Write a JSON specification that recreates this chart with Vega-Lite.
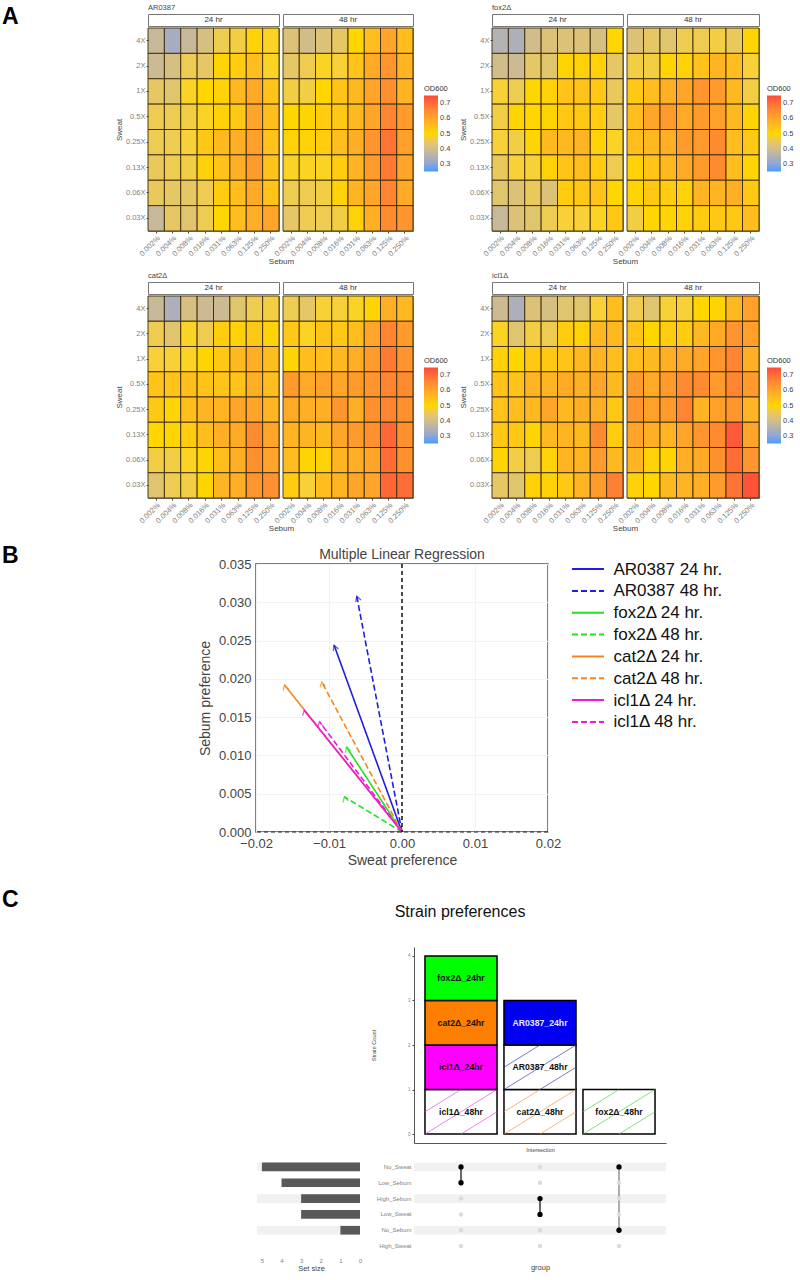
{"$schema":"https://vega.github.io/schema/vega-lite/v6.json","padding":0,"background":"white","spacing":0,"resolve":{"scale":{"color":"independent","stroke":"independent","fill":"independent"}},
"config":{"font":"Liberation Sans","view":{"stroke":null},"title":{"anchor":"start","fontSize":7.5,"fontWeight":"normal","color":"#444","offset":3},
"axis":{"grid":false,"domain":false,"labelColor":"#808080","labelFontSize":7.5,"tickColor":"#444","tickSize":2,"titleColor":"#444","titleFontSize":8,"titleFontWeight":"normal","labelPadding":1},
"axisX":{"labelAngle":-45,"labelAlign":"right","labelBaseline":"top"},
"legend":{"gradientLength":76,"gradientThickness":14,"titleFontSize":7.5,"titleFontWeight":"normal","titleColor":"#333","labelFontSize":7.5,"labelColor":"#444","titlePadding":3,"gradientStrokeWidth":0,"tickCount":5}},
"datasets":{
"a24":[{"sebum":"0.002%","sweat":"4X","od":0.38},{"sebum":"0.004%","sweat":"4X","od":0.33},{"sebum":"0.008%","sweat":"4X","od":0.38},{"sebum":"0.016%","sweat":"4X","od":0.41},{"sebum":"0.031%","sweat":"4X","od":0.46},{"sebum":"0.063%","sweat":"4X","od":0.47},{"sebum":"0.125%","sweat":"4X","od":0.51},{"sebum":"0.250%","sweat":"4X","od":0.49},
{"sebum":"0.002%","sweat":"2X","od":0.39},{"sebum":"0.004%","sweat":"2X","od":0.41},{"sebum":"0.008%","sweat":"2X","od":0.46},{"sebum":"0.016%","sweat":"2X","od":0.44},{"sebum":"0.031%","sweat":"2X","od":0.505},{"sebum":"0.063%","sweat":"2X","od":0.52},{"sebum":"0.125%","sweat":"2X","od":0.55},{"sebum":"0.250%","sweat":"2X","od":0.49},
{"sebum":"0.002%","sweat":"1X","od":0.44},{"sebum":"0.004%","sweat":"1X","od":0.43},{"sebum":"0.008%","sweat":"1X","od":0.49},{"sebum":"0.016%","sweat":"1X","od":0.5},{"sebum":"0.031%","sweat":"1X","od":0.51},{"sebum":"0.063%","sweat":"1X","od":0.56},{"sebum":"0.125%","sweat":"1X","od":0.59},{"sebum":"0.250%","sweat":"1X","od":0.54},
{"sebum":"0.002%","sweat":"0.5X","od":0.46},{"sebum":"0.004%","sweat":"0.5X","od":0.46},{"sebum":"0.008%","sweat":"0.5X","od":0.47},{"sebum":"0.016%","sweat":"0.5X","od":0.49},{"sebum":"0.031%","sweat":"0.5X","od":0.51},{"sebum":"0.063%","sweat":"0.5X","od":0.53},{"sebum":"0.125%","sweat":"0.5X","od":0.6},{"sebum":"0.250%","sweat":"0.5X","od":0.55},
{"sebum":"0.002%","sweat":"0.25X","od":0.46},{"sebum":"0.004%","sweat":"0.25X","od":0.46},{"sebum":"0.008%","sweat":"0.25X","od":0.48},{"sebum":"0.016%","sweat":"0.25X","od":0.53},{"sebum":"0.031%","sweat":"0.25X","od":0.56},{"sebum":"0.063%","sweat":"0.25X","od":0.58},{"sebum":"0.125%","sweat":"0.25X","od":0.61},{"sebum":"0.250%","sweat":"0.25X","od":0.54},
{"sebum":"0.002%","sweat":"0.13X","od":0.45},{"sebum":"0.004%","sweat":"0.13X","od":0.46},{"sebum":"0.008%","sweat":"0.13X","od":0.47},{"sebum":"0.016%","sweat":"0.13X","od":0.51},{"sebum":"0.031%","sweat":"0.13X","od":0.54},{"sebum":"0.063%","sweat":"0.13X","od":0.58},{"sebum":"0.125%","sweat":"0.13X","od":0.62},{"sebum":"0.250%","sweat":"0.13X","od":0.54},
{"sebum":"0.002%","sweat":"0.06X","od":0.45},{"sebum":"0.004%","sweat":"0.06X","od":0.44},{"sebum":"0.008%","sweat":"0.06X","od":0.44},{"sebum":"0.016%","sweat":"0.06X","od":0.46},{"sebum":"0.031%","sweat":"0.06X","od":0.52},{"sebum":"0.063%","sweat":"0.06X","od":0.55},{"sebum":"0.125%","sweat":"0.06X","od":0.59},{"sebum":"0.250%","sweat":"0.06X","od":0.54},
{"sebum":"0.002%","sweat":"0.03X","od":0.38},{"sebum":"0.004%","sweat":"0.03X","od":0.44},{"sebum":"0.008%","sweat":"0.03X","od":0.43},{"sebum":"0.016%","sweat":"0.03X","od":0.46},{"sebum":"0.031%","sweat":"0.03X","od":0.5},{"sebum":"0.063%","sweat":"0.03X","od":0.55},{"sebum":"0.125%","sweat":"0.03X","od":0.58},{"sebum":"0.250%","sweat":"0.03X","od":0.6}],
"a48":[{"sebum":"0.002%","sweat":"4X","od":0.42},{"sebum":"0.004%","sweat":"4X","od":0.4},{"sebum":"0.008%","sweat":"4X","od":0.42},{"sebum":"0.016%","sweat":"4X","od":0.44},{"sebum":"0.031%","sweat":"4X","od":0.5},{"sebum":"0.063%","sweat":"4X","od":0.55},{"sebum":"0.125%","sweat":"4X","od":0.6},{"sebum":"0.250%","sweat":"4X","od":0.55},
{"sebum":"0.002%","sweat":"2X","od":0.44},{"sebum":"0.004%","sweat":"2X","od":0.46},{"sebum":"0.008%","sweat":"2X","od":0.49},{"sebum":"0.016%","sweat":"2X","od":0.48},{"sebum":"0.031%","sweat":"2X","od":0.54},{"sebum":"0.063%","sweat":"2X","od":0.59},{"sebum":"0.125%","sweat":"2X","od":0.63},{"sebum":"0.250%","sweat":"2X","od":0.57},
{"sebum":"0.002%","sweat":"1X","od":0.47},{"sebum":"0.004%","sweat":"1X","od":0.47},{"sebum":"0.008%","sweat":"1X","od":0.5},{"sebum":"0.016%","sweat":"1X","od":0.54},{"sebum":"0.031%","sweat":"1X","od":0.56},{"sebum":"0.063%","sweat":"1X","od":0.6},{"sebum":"0.125%","sweat":"1X","od":0.64},{"sebum":"0.250%","sweat":"1X","od":0.57},
{"sebum":"0.002%","sweat":"0.5X","od":0.5},{"sebum":"0.004%","sweat":"0.5X","od":0.505},{"sebum":"0.008%","sweat":"0.5X","od":0.52},{"sebum":"0.016%","sweat":"0.5X","od":0.53},{"sebum":"0.031%","sweat":"0.5X","od":0.56},{"sebum":"0.063%","sweat":"0.5X","od":0.6},{"sebum":"0.125%","sweat":"0.5X","od":0.66},{"sebum":"0.250%","sweat":"0.5X","od":0.62},
{"sebum":"0.002%","sweat":"0.25X","od":0.51},{"sebum":"0.004%","sweat":"0.25X","od":0.51},{"sebum":"0.008%","sweat":"0.25X","od":0.52},{"sebum":"0.016%","sweat":"0.25X","od":0.55},{"sebum":"0.031%","sweat":"0.25X","od":0.58},{"sebum":"0.063%","sweat":"0.25X","od":0.63},{"sebum":"0.125%","sweat":"0.25X","od":0.69},{"sebum":"0.250%","sweat":"0.25X","od":0.61},
{"sebum":"0.002%","sweat":"0.13X","od":0.49},{"sebum":"0.004%","sweat":"0.13X","od":0.49},{"sebum":"0.008%","sweat":"0.13X","od":0.49},{"sebum":"0.016%","sweat":"0.13X","od":0.52},{"sebum":"0.031%","sweat":"0.13X","od":0.57},{"sebum":"0.063%","sweat":"0.13X","od":0.62},{"sebum":"0.125%","sweat":"0.13X","od":0.68},{"sebum":"0.250%","sweat":"0.13X","od":0.6},
{"sebum":"0.002%","sweat":"0.06X","od":0.46},{"sebum":"0.004%","sweat":"0.06X","od":0.46},{"sebum":"0.008%","sweat":"0.06X","od":0.47},{"sebum":"0.016%","sweat":"0.06X","od":0.51},{"sebum":"0.031%","sweat":"0.06X","od":0.57},{"sebum":"0.063%","sweat":"0.06X","od":0.6},{"sebum":"0.125%","sweat":"0.06X","od":0.66},{"sebum":"0.250%","sweat":"0.06X","od":0.59},
{"sebum":"0.002%","sweat":"0.03X","od":0.44},{"sebum":"0.004%","sweat":"0.03X","od":0.46},{"sebum":"0.008%","sweat":"0.03X","od":0.46},{"sebum":"0.016%","sweat":"0.03X","od":0.47},{"sebum":"0.031%","sweat":"0.03X","od":0.51},{"sebum":"0.063%","sweat":"0.03X","od":0.58},{"sebum":"0.125%","sweat":"0.03X","od":0.65},{"sebum":"0.250%","sweat":"0.03X","od":0.63}],
"f24":[{"sebum":"0.002%","sweat":"4X","od":0.35},{"sebum":"0.004%","sweat":"4X","od":0.34},{"sebum":"0.008%","sweat":"4X","od":0.4},{"sebum":"0.016%","sweat":"4X","od":0.42},{"sebum":"0.031%","sweat":"4X","od":0.42},{"sebum":"0.063%","sweat":"4X","od":0.42},{"sebum":"0.125%","sweat":"4X","od":0.41},{"sebum":"0.250%","sweat":"4X","od":0.5},
{"sebum":"0.002%","sweat":"2X","od":0.4},{"sebum":"0.004%","sweat":"2X","od":0.39},{"sebum":"0.008%","sweat":"2X","od":0.44},{"sebum":"0.016%","sweat":"2X","od":0.43},{"sebum":"0.031%","sweat":"2X","od":0.505},{"sebum":"0.063%","sweat":"2X","od":0.51},{"sebum":"0.125%","sweat":"2X","od":0.51},{"sebum":"0.250%","sweat":"2X","od":0.44},
{"sebum":"0.002%","sweat":"1X","od":0.48},{"sebum":"0.004%","sweat":"1X","od":0.46},{"sebum":"0.008%","sweat":"1X","od":0.5},{"sebum":"0.016%","sweat":"1X","od":0.51},{"sebum":"0.031%","sweat":"1X","od":0.54},{"sebum":"0.063%","sweat":"1X","od":0.54},{"sebum":"0.125%","sweat":"1X","od":0.53},{"sebum":"0.250%","sweat":"1X","od":0.45},
{"sebum":"0.002%","sweat":"0.5X","od":0.47},{"sebum":"0.004%","sweat":"0.5X","od":0.505},{"sebum":"0.008%","sweat":"0.5X","od":0.5},{"sebum":"0.016%","sweat":"0.5X","od":0.505},{"sebum":"0.031%","sweat":"0.5X","od":0.53},{"sebum":"0.063%","sweat":"0.5X","od":0.53},{"sebum":"0.125%","sweat":"0.5X","od":0.52},{"sebum":"0.250%","sweat":"0.5X","od":0.44},
{"sebum":"0.002%","sweat":"0.25X","od":0.48},{"sebum":"0.004%","sweat":"0.25X","od":0.47},{"sebum":"0.008%","sweat":"0.25X","od":0.505},{"sebum":"0.016%","sweat":"0.25X","od":0.56},{"sebum":"0.031%","sweat":"0.25X","od":0.56},{"sebum":"0.063%","sweat":"0.25X","od":0.57},{"sebum":"0.125%","sweat":"0.25X","od":0.51},{"sebum":"0.250%","sweat":"0.25X","od":0.49},
{"sebum":"0.002%","sweat":"0.13X","od":0.45},{"sebum":"0.004%","sweat":"0.13X","od":0.48},{"sebum":"0.008%","sweat":"0.13X","od":0.48},{"sebum":"0.016%","sweat":"0.13X","od":0.51},{"sebum":"0.031%","sweat":"0.13X","od":0.54},{"sebum":"0.063%","sweat":"0.13X","od":0.55},{"sebum":"0.125%","sweat":"0.13X","od":0.52},{"sebum":"0.250%","sweat":"0.13X","od":0.46},
{"sebum":"0.002%","sweat":"0.06X","od":0.43},{"sebum":"0.004%","sweat":"0.06X","od":0.42},{"sebum":"0.008%","sweat":"0.06X","od":0.45},{"sebum":"0.016%","sweat":"0.06X","od":0.42},{"sebum":"0.031%","sweat":"0.06X","od":0.52},{"sebum":"0.063%","sweat":"0.06X","od":0.53},{"sebum":"0.125%","sweat":"0.06X","od":0.54},{"sebum":"0.250%","sweat":"0.06X","od":0.5},
{"sebum":"0.002%","sweat":"0.03X","od":0.38},{"sebum":"0.004%","sweat":"0.03X","od":0.42},{"sebum":"0.008%","sweat":"0.03X","od":0.43},{"sebum":"0.016%","sweat":"0.03X","od":0.46},{"sebum":"0.031%","sweat":"0.03X","od":0.48},{"sebum":"0.063%","sweat":"0.03X","od":0.48},{"sebum":"0.125%","sweat":"0.03X","od":0.49},{"sebum":"0.250%","sweat":"0.03X","od":0.53}],
"f48":[{"sebum":"0.002%","sweat":"4X","od":0.42},{"sebum":"0.004%","sweat":"4X","od":0.44},{"sebum":"0.008%","sweat":"4X","od":0.43},{"sebum":"0.016%","sweat":"4X","od":0.46},{"sebum":"0.031%","sweat":"4X","od":0.46},{"sebum":"0.063%","sweat":"4X","od":0.47},{"sebum":"0.125%","sweat":"4X","od":0.45},{"sebum":"0.250%","sweat":"4X","od":0.505},
{"sebum":"0.002%","sweat":"2X","od":0.47},{"sebum":"0.004%","sweat":"2X","od":0.47},{"sebum":"0.008%","sweat":"2X","od":0.505},{"sebum":"0.016%","sweat":"2X","od":0.51},{"sebum":"0.031%","sweat":"2X","od":0.54},{"sebum":"0.063%","sweat":"2X","od":0.57},{"sebum":"0.125%","sweat":"2X","od":0.55},{"sebum":"0.250%","sweat":"2X","od":0.48},
{"sebum":"0.002%","sweat":"1X","od":0.53},{"sebum":"0.004%","sweat":"1X","od":0.55},{"sebum":"0.008%","sweat":"1X","od":0.58},{"sebum":"0.016%","sweat":"1X","od":0.6},{"sebum":"0.031%","sweat":"1X","od":0.63},{"sebum":"0.063%","sweat":"1X","od":0.62},{"sebum":"0.125%","sweat":"1X","od":0.56},{"sebum":"0.250%","sweat":"1X","od":0.47},
{"sebum":"0.002%","sweat":"0.5X","od":0.55},{"sebum":"0.004%","sweat":"0.5X","od":0.6},{"sebum":"0.008%","sweat":"0.5X","od":0.62},{"sebum":"0.016%","sweat":"0.5X","od":0.59},{"sebum":"0.031%","sweat":"0.5X","od":0.62},{"sebum":"0.063%","sweat":"0.5X","od":0.61},{"sebum":"0.125%","sweat":"0.5X","od":0.56},{"sebum":"0.250%","sweat":"0.5X","od":0.505},
{"sebum":"0.002%","sweat":"0.25X","od":0.55},{"sebum":"0.004%","sweat":"0.25X","od":0.56},{"sebum":"0.008%","sweat":"0.25X","od":0.58},{"sebum":"0.016%","sweat":"0.25X","od":0.62},{"sebum":"0.031%","sweat":"0.25X","od":0.62},{"sebum":"0.063%","sweat":"0.25X","od":0.65},{"sebum":"0.125%","sweat":"0.25X","od":0.55},{"sebum":"0.250%","sweat":"0.25X","od":0.53},
{"sebum":"0.002%","sweat":"0.13X","od":0.51},{"sebum":"0.004%","sweat":"0.13X","od":0.54},{"sebum":"0.008%","sweat":"0.13X","od":0.56},{"sebum":"0.016%","sweat":"0.13X","od":0.59},{"sebum":"0.031%","sweat":"0.13X","od":0.62},{"sebum":"0.063%","sweat":"0.13X","od":0.65},{"sebum":"0.125%","sweat":"0.13X","od":0.55},{"sebum":"0.250%","sweat":"0.13X","od":0.505},
{"sebum":"0.002%","sweat":"0.06X","od":0.505},{"sebum":"0.004%","sweat":"0.06X","od":0.53},{"sebum":"0.008%","sweat":"0.06X","od":0.52},{"sebum":"0.016%","sweat":"0.06X","od":0.51},{"sebum":"0.031%","sweat":"0.06X","od":0.57},{"sebum":"0.063%","sweat":"0.06X","od":0.57},{"sebum":"0.125%","sweat":"0.06X","od":0.58},{"sebum":"0.250%","sweat":"0.06X","od":0.53},
{"sebum":"0.002%","sweat":"0.03X","od":0.47},{"sebum":"0.004%","sweat":"0.03X","od":0.5},{"sebum":"0.008%","sweat":"0.03X","od":0.505},{"sebum":"0.016%","sweat":"0.03X","od":0.51},{"sebum":"0.031%","sweat":"0.03X","od":0.52},{"sebum":"0.063%","sweat":"0.03X","od":0.53},{"sebum":"0.125%","sweat":"0.03X","od":0.53},{"sebum":"0.250%","sweat":"0.03X","od":0.55}],
"c24":[{"sebum":"0.002%","sweat":"4X","od":0.38},{"sebum":"0.004%","sweat":"4X","od":0.34},{"sebum":"0.008%","sweat":"4X","od":0.41},{"sebum":"0.016%","sweat":"4X","od":0.39},{"sebum":"0.031%","sweat":"4X","od":0.39},{"sebum":"0.063%","sweat":"4X","od":0.43},{"sebum":"0.125%","sweat":"4X","od":0.46},{"sebum":"0.250%","sweat":"4X","od":0.47},
{"sebum":"0.002%","sweat":"2X","od":0.46},{"sebum":"0.004%","sweat":"2X","od":0.43},{"sebum":"0.008%","sweat":"2X","od":0.49},{"sebum":"0.016%","sweat":"2X","od":0.46},{"sebum":"0.031%","sweat":"2X","od":0.52},{"sebum":"0.063%","sweat":"2X","od":0.51},{"sebum":"0.125%","sweat":"2X","od":0.53},{"sebum":"0.250%","sweat":"2X","od":0.505},
{"sebum":"0.002%","sweat":"1X","od":0.48},{"sebum":"0.004%","sweat":"1X","od":0.48},{"sebum":"0.008%","sweat":"1X","od":0.49},{"sebum":"0.016%","sweat":"1X","od":0.505},{"sebum":"0.031%","sweat":"1X","od":0.53},{"sebum":"0.063%","sweat":"1X","od":0.56},{"sebum":"0.125%","sweat":"1X","od":0.58},{"sebum":"0.250%","sweat":"1X","od":0.55},
{"sebum":"0.002%","sweat":"0.5X","od":0.54},{"sebum":"0.004%","sweat":"0.5X","od":0.54},{"sebum":"0.008%","sweat":"0.5X","od":0.55},{"sebum":"0.016%","sweat":"0.5X","od":0.54},{"sebum":"0.031%","sweat":"0.5X","od":0.54},{"sebum":"0.063%","sweat":"0.5X","od":0.54},{"sebum":"0.125%","sweat":"0.5X","od":0.58},{"sebum":"0.250%","sweat":"0.5X","od":0.55},
{"sebum":"0.002%","sweat":"0.25X","od":0.53},{"sebum":"0.004%","sweat":"0.25X","od":0.505},{"sebum":"0.008%","sweat":"0.25X","od":0.55},{"sebum":"0.016%","sweat":"0.25X","od":0.57},{"sebum":"0.031%","sweat":"0.25X","od":0.57},{"sebum":"0.063%","sweat":"0.25X","od":0.6},{"sebum":"0.125%","sweat":"0.25X","od":0.6},{"sebum":"0.250%","sweat":"0.25X","od":0.57},
{"sebum":"0.002%","sweat":"0.13X","od":0.5},{"sebum":"0.004%","sweat":"0.13X","od":0.505},{"sebum":"0.008%","sweat":"0.13X","od":0.52},{"sebum":"0.016%","sweat":"0.13X","od":0.55},{"sebum":"0.031%","sweat":"0.13X","od":0.58},{"sebum":"0.063%","sweat":"0.13X","od":0.59},{"sebum":"0.125%","sweat":"0.13X","od":0.65},{"sebum":"0.250%","sweat":"0.13X","od":0.6},
{"sebum":"0.002%","sweat":"0.06X","od":0.47},{"sebum":"0.004%","sweat":"0.06X","od":0.47},{"sebum":"0.008%","sweat":"0.06X","od":0.49},{"sebum":"0.016%","sweat":"0.06X","od":0.505},{"sebum":"0.031%","sweat":"0.06X","od":0.55},{"sebum":"0.063%","sweat":"0.06X","od":0.58},{"sebum":"0.125%","sweat":"0.06X","od":0.64},{"sebum":"0.250%","sweat":"0.06X","od":0.6},
{"sebum":"0.002%","sweat":"0.03X","od":0.43},{"sebum":"0.004%","sweat":"0.03X","od":0.46},{"sebum":"0.008%","sweat":"0.03X","od":0.47},{"sebum":"0.016%","sweat":"0.03X","od":0.505},{"sebum":"0.031%","sweat":"0.03X","od":0.57},{"sebum":"0.063%","sweat":"0.03X","od":0.58},{"sebum":"0.125%","sweat":"0.03X","od":0.63},{"sebum":"0.250%","sweat":"0.03X","od":0.64}],
"c48":[{"sebum":"0.002%","sweat":"4X","od":0.46},{"sebum":"0.004%","sweat":"4X","od":0.44},{"sebum":"0.008%","sweat":"4X","od":0.48},{"sebum":"0.016%","sweat":"4X","od":0.48},{"sebum":"0.031%","sweat":"4X","od":0.49},{"sebum":"0.063%","sweat":"4X","od":0.505},{"sebum":"0.125%","sweat":"4X","od":0.58},{"sebum":"0.250%","sweat":"4X","od":0.56},
{"sebum":"0.002%","sweat":"2X","od":0.53},{"sebum":"0.004%","sweat":"2X","od":0.49},{"sebum":"0.008%","sweat":"2X","od":0.54},{"sebum":"0.016%","sweat":"2X","od":0.53},{"sebum":"0.031%","sweat":"2X","od":0.55},{"sebum":"0.063%","sweat":"2X","od":0.6},{"sebum":"0.125%","sweat":"2X","od":0.66},{"sebum":"0.250%","sweat":"2X","od":0.62},
{"sebum":"0.002%","sweat":"1X","od":0.505},{"sebum":"0.004%","sweat":"1X","od":0.55},{"sebum":"0.008%","sweat":"1X","od":0.55},{"sebum":"0.016%","sweat":"1X","od":0.56},{"sebum":"0.031%","sweat":"1X","od":0.58},{"sebum":"0.063%","sweat":"1X","od":0.62},{"sebum":"0.125%","sweat":"1X","od":0.68},{"sebum":"0.250%","sweat":"1X","od":0.63},
{"sebum":"0.002%","sweat":"0.5X","od":0.62},{"sebum":"0.004%","sweat":"0.5X","od":0.59},{"sebum":"0.008%","sweat":"0.5X","od":0.61},{"sebum":"0.016%","sweat":"0.5X","od":0.6},{"sebum":"0.031%","sweat":"0.5X","od":0.62},{"sebum":"0.063%","sweat":"0.5X","od":0.63},{"sebum":"0.125%","sweat":"0.5X","od":0.66},{"sebum":"0.250%","sweat":"0.5X","od":0.65},
{"sebum":"0.002%","sweat":"0.25X","od":0.59},{"sebum":"0.004%","sweat":"0.25X","od":0.58},{"sebum":"0.008%","sweat":"0.25X","od":0.58},{"sebum":"0.016%","sweat":"0.25X","od":0.63},{"sebum":"0.031%","sweat":"0.25X","od":0.58},{"sebum":"0.063%","sweat":"0.25X","od":0.64},{"sebum":"0.125%","sweat":"0.25X","od":0.66},{"sebum":"0.250%","sweat":"0.25X","od":0.64},
{"sebum":"0.002%","sweat":"0.13X","od":0.57},{"sebum":"0.004%","sweat":"0.13X","od":0.57},{"sebum":"0.008%","sweat":"0.13X","od":0.56},{"sebum":"0.016%","sweat":"0.13X","od":0.6},{"sebum":"0.031%","sweat":"0.13X","od":0.62},{"sebum":"0.063%","sweat":"0.13X","od":0.64},{"sebum":"0.125%","sweat":"0.13X","od":0.71},{"sebum":"0.250%","sweat":"0.13X","od":0.64},
{"sebum":"0.002%","sweat":"0.06X","od":0.55},{"sebum":"0.004%","sweat":"0.06X","od":0.505},{"sebum":"0.008%","sweat":"0.06X","od":0.51},{"sebum":"0.016%","sweat":"0.06X","od":0.57},{"sebum":"0.031%","sweat":"0.06X","od":0.58},{"sebum":"0.063%","sweat":"0.06X","od":0.6},{"sebum":"0.125%","sweat":"0.06X","od":0.7},{"sebum":"0.250%","sweat":"0.06X","od":0.64},
{"sebum":"0.002%","sweat":"0.03X","od":0.52},{"sebum":"0.004%","sweat":"0.03X","od":0.48},{"sebum":"0.008%","sweat":"0.03X","od":0.55},{"sebum":"0.016%","sweat":"0.03X","od":0.57},{"sebum":"0.031%","sweat":"0.03X","od":0.6},{"sebum":"0.063%","sweat":"0.03X","od":0.6},{"sebum":"0.125%","sweat":"0.03X","od":0.71},{"sebum":"0.250%","sweat":"0.03X","od":0.7}],
"i24":[{"sebum":"0.002%","sweat":"4X","od":0.39},{"sebum":"0.004%","sweat":"4X","od":0.34},{"sebum":"0.008%","sweat":"4X","od":0.42},{"sebum":"0.016%","sweat":"4X","od":0.41},{"sebum":"0.031%","sweat":"4X","od":0.43},{"sebum":"0.063%","sweat":"4X","od":0.43},{"sebum":"0.125%","sweat":"4X","od":0.48},{"sebum":"0.250%","sweat":"4X","od":0.55},
{"sebum":"0.002%","sweat":"2X","od":0.49},{"sebum":"0.004%","sweat":"2X","od":0.43},{"sebum":"0.008%","sweat":"2X","od":0.47},{"sebum":"0.016%","sweat":"2X","od":0.46},{"sebum":"0.031%","sweat":"2X","od":0.52},{"sebum":"0.063%","sweat":"2X","od":0.51},{"sebum":"0.125%","sweat":"2X","od":0.56},{"sebum":"0.250%","sweat":"2X","od":0.56},
{"sebum":"0.002%","sweat":"1X","od":0.51},{"sebum":"0.004%","sweat":"1X","od":0.5},{"sebum":"0.008%","sweat":"1X","od":0.53},{"sebum":"0.016%","sweat":"1X","od":0.53},{"sebum":"0.031%","sweat":"1X","od":0.54},{"sebum":"0.063%","sweat":"1X","od":0.56},{"sebum":"0.125%","sweat":"1X","od":0.57},{"sebum":"0.250%","sweat":"1X","od":0.55},
{"sebum":"0.002%","sweat":"0.5X","od":0.54},{"sebum":"0.004%","sweat":"0.5X","od":0.54},{"sebum":"0.008%","sweat":"0.5X","od":0.57},{"sebum":"0.016%","sweat":"0.5X","od":0.57},{"sebum":"0.031%","sweat":"0.5X","od":0.59},{"sebum":"0.063%","sweat":"0.5X","od":0.58},{"sebum":"0.125%","sweat":"0.5X","od":0.6},{"sebum":"0.250%","sweat":"0.5X","od":0.56},
{"sebum":"0.002%","sweat":"0.25X","od":0.54},{"sebum":"0.004%","sweat":"0.25X","od":0.55},{"sebum":"0.008%","sweat":"0.25X","od":0.56},{"sebum":"0.016%","sweat":"0.25X","od":0.6},{"sebum":"0.031%","sweat":"0.25X","od":0.56},{"sebum":"0.063%","sweat":"0.25X","od":0.58},{"sebum":"0.125%","sweat":"0.25X","od":0.58},{"sebum":"0.250%","sweat":"0.25X","od":0.53},
{"sebum":"0.002%","sweat":"0.13X","od":0.53},{"sebum":"0.004%","sweat":"0.13X","od":0.53},{"sebum":"0.008%","sweat":"0.13X","od":0.505},{"sebum":"0.016%","sweat":"0.13X","od":0.56},{"sebum":"0.031%","sweat":"0.13X","od":0.57},{"sebum":"0.063%","sweat":"0.13X","od":0.56},{"sebum":"0.125%","sweat":"0.13X","od":0.65},{"sebum":"0.250%","sweat":"0.13X","od":0.52},
{"sebum":"0.002%","sweat":"0.06X","od":0.505},{"sebum":"0.004%","sweat":"0.06X","od":0.47},{"sebum":"0.008%","sweat":"0.06X","od":0.46},{"sebum":"0.016%","sweat":"0.06X","od":0.51},{"sebum":"0.031%","sweat":"0.06X","od":0.57},{"sebum":"0.063%","sweat":"0.06X","od":0.57},{"sebum":"0.125%","sweat":"0.06X","od":0.62},{"sebum":"0.250%","sweat":"0.06X","od":0.56},
{"sebum":"0.002%","sweat":"0.03X","od":0.44},{"sebum":"0.004%","sweat":"0.03X","od":0.43},{"sebum":"0.008%","sweat":"0.03X","od":0.51},{"sebum":"0.016%","sweat":"0.03X","od":0.51},{"sebum":"0.031%","sweat":"0.03X","od":0.53},{"sebum":"0.063%","sweat":"0.03X","od":0.57},{"sebum":"0.125%","sweat":"0.03X","od":0.62},{"sebum":"0.250%","sweat":"0.03X","od":0.67}],
"i48":[{"sebum":"0.002%","sweat":"4X","od":0.46},{"sebum":"0.004%","sweat":"4X","od":0.43},{"sebum":"0.008%","sweat":"4X","od":0.48},{"sebum":"0.016%","sweat":"4X","od":0.48},{"sebum":"0.031%","sweat":"4X","od":0.5},{"sebum":"0.063%","sweat":"4X","od":0.505},{"sebum":"0.125%","sweat":"4X","od":0.56},{"sebum":"0.250%","sweat":"4X","od":0.61},
{"sebum":"0.002%","sweat":"2X","od":0.54},{"sebum":"0.004%","sweat":"2X","od":0.5},{"sebum":"0.008%","sweat":"2X","od":0.52},{"sebum":"0.016%","sweat":"2X","od":0.52},{"sebum":"0.031%","sweat":"2X","od":0.56},{"sebum":"0.063%","sweat":"2X","od":0.59},{"sebum":"0.125%","sweat":"2X","od":0.63},{"sebum":"0.250%","sweat":"2X","od":0.61},
{"sebum":"0.002%","sweat":"1X","od":0.55},{"sebum":"0.004%","sweat":"1X","od":0.56},{"sebum":"0.008%","sweat":"1X","od":0.58},{"sebum":"0.016%","sweat":"1X","od":0.59},{"sebum":"0.031%","sweat":"1X","od":0.6},{"sebum":"0.063%","sweat":"1X","od":0.63},{"sebum":"0.125%","sweat":"1X","od":0.66},{"sebum":"0.250%","sweat":"1X","od":0.58},
{"sebum":"0.002%","sweat":"0.5X","od":0.62},{"sebum":"0.004%","sweat":"0.5X","od":0.59},{"sebum":"0.008%","sweat":"0.5X","od":0.62},{"sebum":"0.016%","sweat":"0.5X","od":0.65},{"sebum":"0.031%","sweat":"0.5X","od":0.65},{"sebum":"0.063%","sweat":"0.5X","od":0.62},{"sebum":"0.125%","sweat":"0.5X","od":0.66},{"sebum":"0.250%","sweat":"0.5X","od":0.62},
{"sebum":"0.002%","sweat":"0.25X","od":0.63},{"sebum":"0.004%","sweat":"0.25X","od":0.61},{"sebum":"0.008%","sweat":"0.25X","od":0.62},{"sebum":"0.016%","sweat":"0.25X","od":0.66},{"sebum":"0.031%","sweat":"0.25X","od":0.57},{"sebum":"0.063%","sweat":"0.25X","od":0.61},{"sebum":"0.125%","sweat":"0.25X","od":0.63},{"sebum":"0.250%","sweat":"0.25X","od":0.57},
{"sebum":"0.002%","sweat":"0.13X","od":0.6},{"sebum":"0.004%","sweat":"0.13X","od":0.58},{"sebum":"0.008%","sweat":"0.13X","od":0.57},{"sebum":"0.016%","sweat":"0.13X","od":0.6},{"sebum":"0.031%","sweat":"0.13X","od":0.63},{"sebum":"0.063%","sweat":"0.13X","od":0.65},{"sebum":"0.125%","sweat":"0.13X","od":0.73},{"sebum":"0.250%","sweat":"0.13X","od":0.6},
{"sebum":"0.002%","sweat":"0.06X","od":0.57},{"sebum":"0.004%","sweat":"0.06X","od":0.51},{"sebum":"0.008%","sweat":"0.06X","od":0.505},{"sebum":"0.016%","sweat":"0.06X","od":0.58},{"sebum":"0.031%","sweat":"0.06X","od":0.59},{"sebum":"0.063%","sweat":"0.06X","od":0.64},{"sebum":"0.125%","sweat":"0.06X","od":0.7},{"sebum":"0.250%","sweat":"0.06X","od":0.63},
{"sebum":"0.002%","sweat":"0.03X","od":0.51},{"sebum":"0.004%","sweat":"0.03X","od":0.5},{"sebum":"0.008%","sweat":"0.03X","od":0.56},{"sebum":"0.016%","sweat":"0.03X","od":0.57},{"sebum":"0.031%","sweat":"0.03X","od":0.58},{"sebum":"0.063%","sweat":"0.03X","od":0.62},{"sebum":"0.125%","sweat":"0.03X","od":0.69},{"sebum":"0.250%","sweat":"0.03X","od":0.74}],
"none":[],
"arrows":[{"series":"AR0387 24 hr.","x0":0,"y0":0,"sweat":-0.0093,"sebum":0.0244},{"series":"AR0387 48 hr.","x0":0,"y0":0,"sweat":-0.0062,"sebum":0.0308},{"series":"fox2Δ 24 hr.","x0":0,"y0":0,"sweat":-0.0076,"sebum":0.0111},{"series":"fox2Δ 48 hr.","x0":0,"y0":0,"sweat":-0.0079,"sebum":0.0046},{"series":"cat2Δ 24 hr.","x0":0,"y0":0,"sweat":-0.0161,"sebum":0.0192},{"series":"cat2Δ 48 hr.","x0":0,"y0":0,"sweat":-0.011,"sebum":0.0196},{"series":"icl1Δ 24 hr.","x0":0,"y0":0,"sweat":-0.0134,"sebum":0.0159},{"series":"icl1Δ 48 hr.","x0":0,"y0":0,"sweat":-0.0113,"sebum":0.0144}],
"swatches":[{"series":"AR0387 24 hr.","from":0,"to":1},{"series":"AR0387 48 hr.","from":0,"to":1},{"series":"fox2Δ 24 hr.","from":0,"to":1},{"series":"fox2Δ 48 hr.","from":0,"to":1},{"series":"cat2Δ 24 hr.","from":0,"to":1},{"series":"cat2Δ 48 hr.","from":0,"to":1},{"series":"icl1Δ 24 hr.","from":0,"to":1},{"series":"icl1Δ 48 hr.","from":0,"to":1}],
"boxes":[{"strain":"icl1Δ_48hr","x0":0.544,"x1":1.456,"xc":1,"y0":0,"y1":1,"ym":0.5},{"strain":"icl1Δ_24hr","x0":0.544,"x1":1.456,"xc":1,"y0":1,"y1":2,"ym":1.5},{"strain":"cat2Δ_24hr","x0":0.544,"x1":1.456,"xc":1,"y0":2,"y1":3,"ym":2.5},{"strain":"fox2Δ_24hr","x0":0.544,"x1":1.456,"xc":1,"y0":3,"y1":4,"ym":3.5},{"strain":"cat2Δ_48hr","x0":1.544,"x1":2.456,"xc":2,"y0":0,"y1":1,"ym":0.5},{"strain":"AR0387_48hr","x0":1.544,"x1":2.456,"xc":2,"y0":1,"y1":2,"ym":1.5},{"strain":"AR0387_24hr","x0":1.544,"x1":2.456,"xc":2,"y0":2,"y1":3,"ym":2.5},{"strain":"fox2Δ_48hr","x0":2.544,"x1":3.456,"xc":3,"y0":0,"y1":1,"ym":0.5}],
"hatch":[{"strain":"icl1Δ_48hr","x0":0.544,"x1":1.456,"y0":0,"y1":1},{"strain":"icl1Δ_48hr","x0":0.544,"x1":1,"y0":0.5,"y1":1},{"strain":"icl1Δ_48hr","x0":1,"x1":1.456,"y0":0,"y1":0.5},{"strain":"cat2Δ_48hr","x0":1.544,"x1":2.456,"y0":0,"y1":1},{"strain":"cat2Δ_48hr","x0":1.544,"x1":2,"y0":0.5,"y1":1},{"strain":"cat2Δ_48hr","x0":2,"x1":2.456,"y0":0,"y1":0.5},{"strain":"AR0387_48hr","x0":1.544,"x1":2.456,"y0":1,"y1":2},{"strain":"AR0387_48hr","x0":1.544,"x1":2,"y0":1.5,"y1":2},{"strain":"AR0387_48hr","x0":2,"x1":2.456,"y0":1,"y1":1.5},{"strain":"fox2Δ_48hr","x0":2.544,"x1":3.456,"y0":0,"y1":1},{"strain":"fox2Δ_48hr","x0":2.544,"x1":3,"y0":0.5,"y1":1},{"strain":"fox2Δ_48hr","x0":3,"x1":3.456,"y0":0,"y1":0.5}],
"stripes":[{"set":"No_Sweat"},{"set":"High_Sebum"},{"set":"No_Sebum"}],
"sizes":[{"set":"No_Sweat","size":5},{"set":"Low_Sebum","size":4},{"set":"High_Sebum","size":3},{"set":"Low_Sweat","size":3},{"set":"No_Sebum","size":1},{"set":"High_Sweat","size":0}],
"links":[{"group":1,"from":"No_Sweat","to":"Low_Sebum"},{"group":2,"from":"High_Sebum","to":"Low_Sweat"},{"group":3,"from":"No_Sweat","to":"No_Sebum"}],
"dots":[{"group":1,"set":"No_Sweat","member":"yes"},{"group":1,"set":"Low_Sebum","member":"yes"},{"group":1,"set":"High_Sebum","member":"no"},{"group":1,"set":"Low_Sweat","member":"no"},{"group":1,"set":"No_Sebum","member":"no"},{"group":1,"set":"High_Sweat","member":"no"},{"group":2,"set":"No_Sweat","member":"no"},{"group":2,"set":"Low_Sebum","member":"no"},{"group":2,"set":"High_Sebum","member":"yes"},{"group":2,"set":"Low_Sweat","member":"yes"},{"group":2,"set":"No_Sebum","member":"no"},{"group":2,"set":"High_Sweat","member":"no"},{"group":3,"set":"No_Sweat","member":"yes"},{"group":3,"set":"Low_Sebum","member":"no"},{"group":3,"set":"High_Sebum","member":"no"},{"group":3,"set":"Low_Sweat","member":"no"},{"group":3,"set":"No_Sebum","member":"yes"},{"group":3,"set":"High_Sweat","member":"no"}]
},
"vconcat":[
{"columns":6,"align":"none","bounds":"flush","spacing":{"row":2,"column":4},"resolve":{"scale":{"color":"independent"}},"concat":[
{"width":1,"height":12,"data":{"name":"none"},"mark":"rect"},{"width":1,"height":12,"data":{"name":"none"},"mark":"rect"},{"width":1,"height":12,"data":{"name":"none"},"mark":"rect"},{"width":1,"height":12,"data":{"name":"none"},"mark":"rect"},{"width":1,"height":12,"data":{"name":"none"},"mark":"rect"},{"width":1,"height":12,"data":{"name":"none"},"mark":"rect"},

{"width":144,"height":12,"data":{"values":[{"label":"A","x":0,"y":0.75}]},"mark":{"type":"text","align":"left","fontSize":23,"fontWeight":"bold","color":"black","dx":2},"encoding":{"text":{"field":"label"},"x":{"field":"x","type":"quantitative","scale":{"domain":[0,1]},"axis":null},"y":{"field":"y","type":"quantitative","scale":{"domain":[0,1]},"axis":null}}},
{"width":131,"height":12,"view":{"stroke":"#777"},"title":{"text":"AR0387"},"data":{"values":[{"label":"24 hr"}]},"mark":{"type":"text","fontSize":8,"color":"#333"},"encoding":{"text":{"field":"label"}}},
{"width":130,"height":12,"view":{"stroke":"#777"},"data":{"values":[{"label":"48 hr"}]},"mark":{"type":"text","fontSize":8,"color":"#333"},"encoding":{"text":{"field":"label"}}},
{"width":71,"height":12,"data":{"name":"none"},"mark":"rect"},
{"width":131,"height":12,"view":{"stroke":"#777"},"title":{"text":"fox2Δ"},"data":{"values":[{"label":"24 hr"}]},"mark":{"type":"text","fontSize":8,"color":"#333"},"encoding":{"text":{"field":"label"}}},
{"width":132,"height":12,"view":{"stroke":"#777"},"data":{"values":[{"label":"48 hr"}]},"mark":{"type":"text","fontSize":8,"color":"#333"},"encoding":{"text":{"field":"label"}}},

{"width":144,"height":203,"data":{"name":"none"},"mark":"rect"},
{"width":131,"height":203,"view":{"stroke":"#888"},"data":{"name":"a24"},"mark":{"type":"rect","stroke":"#3a2808","strokeWidth":0.9},"encoding":{"x":{"field":"sebum","type":"ordinal","sort":null,"title":"Sebum","axis":{"titleX":133,"titleY":26}},"y":{"field":"sweat","type":"ordinal","sort":null,"title":"Sweat","axis":{"titlePadding":2}},"color":{"field":"od","type":"quantitative","scale":{"domain":[0.25,0.75],"range":["#4a9cff","#ffd600","#ff4a3a"],"interpolate":"lab"},"legend":null}}},
{"width":130,"height":203,"view":{"stroke":"#888"},"data":{"name":"a48"},"mark":{"type":"rect","stroke":"#3a2808","strokeWidth":0.9},"encoding":{"x":{"field":"sebum","type":"ordinal","sort":null,"title":null},"y":{"field":"sweat","type":"ordinal","sort":null,"axis":null},"color":{"field":"od","type":"quantitative","title":"OD600","scale":{"domain":[0.25,0.75],"range":["#4a9cff","#ffd600","#ff4a3a"],"interpolate":"lab"},"legend":{"orient":"none","legendX":141,"legendY":57,"values":[0.3,0.4,0.5,0.6,0.7]}}}},
{"width":71,"height":203,"data":{"name":"none"},"mark":"rect"},
{"width":131,"height":203,"view":{"stroke":"#888"},"data":{"name":"f24"},"mark":{"type":"rect","stroke":"#3a2808","strokeWidth":0.9},"encoding":{"x":{"field":"sebum","type":"ordinal","sort":null,"title":"Sebum","axis":{"titleX":133,"titleY":26}},"y":{"field":"sweat","type":"ordinal","sort":null,"title":"Sweat","axis":{"titlePadding":2}},"color":{"field":"od","type":"quantitative","scale":{"domain":[0.25,0.75],"range":["#4a9cff","#ffd600","#ff4a3a"],"interpolate":"lab"},"legend":null}}},
{"width":132,"height":203,"view":{"stroke":"#888"},"data":{"name":"f48"},"mark":{"type":"rect","stroke":"#3a2808","strokeWidth":0.9},"encoding":{"x":{"field":"sebum","type":"ordinal","sort":null,"title":null},"y":{"field":"sweat","type":"ordinal","sort":null,"axis":null},"color":{"field":"od","type":"quantitative","title":"OD600","scale":{"domain":[0.25,0.75],"range":["#4a9cff","#ffd600","#ff4a3a"],"interpolate":"lab"},"legend":{"orient":"none","legendX":140,"legendY":57,"values":[0.3,0.4,0.5,0.6,0.7]}}}},

{"width":1,"height":47,"data":{"name":"none"},"mark":"rect"},{"width":1,"height":47,"data":{"name":"none"},"mark":"rect"},{"width":1,"height":47,"data":{"name":"none"},"mark":"rect"},{"width":1,"height":47,"data":{"name":"none"},"mark":"rect"},{"width":1,"height":47,"data":{"name":"none"},"mark":"rect"},{"width":1,"height":47,"data":{"name":"none"},"mark":"rect"},

{"width":144,"height":12,"data":{"name":"none"},"mark":"rect"},
{"width":131,"height":12,"view":{"stroke":"#777"},"title":{"text":"cat2Δ"},"data":{"values":[{"label":"24 hr"}]},"mark":{"type":"text","fontSize":8,"color":"#333"},"encoding":{"text":{"field":"label"}}},
{"width":130,"height":12,"view":{"stroke":"#777"},"data":{"values":[{"label":"48 hr"}]},"mark":{"type":"text","fontSize":8,"color":"#333"},"encoding":{"text":{"field":"label"}}},
{"width":71,"height":12,"data":{"name":"none"},"mark":"rect"},
{"width":131,"height":12,"view":{"stroke":"#777"},"title":{"text":"icl1Δ"},"data":{"values":[{"label":"24 hr"}]},"mark":{"type":"text","fontSize":8,"color":"#333"},"encoding":{"text":{"field":"label"}}},
{"width":132,"height":12,"view":{"stroke":"#777"},"data":{"values":[{"label":"48 hr"}]},"mark":{"type":"text","fontSize":8,"color":"#333"},"encoding":{"text":{"field":"label"}}},

{"width":144,"height":202,"data":{"name":"none"},"mark":"rect"},
{"width":131,"height":202,"view":{"stroke":"#888"},"data":{"name":"c24"},"mark":{"type":"rect","stroke":"#3a2808","strokeWidth":0.9},"encoding":{"x":{"field":"sebum","type":"ordinal","sort":null,"title":"Sebum","axis":{"titleX":133,"titleY":26}},"y":{"field":"sweat","type":"ordinal","sort":null,"title":"Sweat","axis":{"titlePadding":2}},"color":{"field":"od","type":"quantitative","scale":{"domain":[0.25,0.75],"range":["#4a9cff","#ffd600","#ff4a3a"],"interpolate":"lab"},"legend":null}}},
{"width":130,"height":202,"view":{"stroke":"#888"},"data":{"name":"c48"},"mark":{"type":"rect","stroke":"#3a2808","strokeWidth":0.9},"encoding":{"x":{"field":"sebum","type":"ordinal","sort":null,"title":null},"y":{"field":"sweat","type":"ordinal","sort":null,"axis":null},"color":{"field":"od","type":"quantitative","title":"OD600","scale":{"domain":[0.25,0.75],"range":["#4a9cff","#ffd600","#ff4a3a"],"interpolate":"lab"},"legend":{"orient":"none","legendX":141,"legendY":61,"values":[0.3,0.4,0.5,0.6,0.7]}}}},
{"width":71,"height":202,"data":{"name":"none"},"mark":"rect"},
{"width":131,"height":202,"view":{"stroke":"#888"},"data":{"name":"i24"},"mark":{"type":"rect","stroke":"#3a2808","strokeWidth":0.9},"encoding":{"x":{"field":"sebum","type":"ordinal","sort":null,"title":"Sebum","axis":{"titleX":133,"titleY":26}},"y":{"field":"sweat","type":"ordinal","sort":null,"title":"Sweat","axis":{"titlePadding":2}},"color":{"field":"od","type":"quantitative","scale":{"domain":[0.25,0.75],"range":["#4a9cff","#ffd600","#ff4a3a"],"interpolate":"lab"},"legend":null}}},
{"width":132,"height":202,"view":{"stroke":"#888"},"data":{"name":"i48"},"mark":{"type":"rect","stroke":"#3a2808","strokeWidth":0.9},"encoding":{"x":{"field":"sebum","type":"ordinal","sort":null,"title":null},"y":{"field":"sweat","type":"ordinal","sort":null,"axis":null},"color":{"field":"od","type":"quantitative","title":"OD600","scale":{"domain":[0.25,0.75],"range":["#4a9cff","#ffd600","#ff4a3a"],"interpolate":"lab"},"legend":{"orient":"none","legendX":140,"legendY":61,"values":[0.3,0.4,0.5,0.6,0.7]}}}},

{"width":1,"height":40,"data":{"name":"none"},"mark":"rect"}
]},
{"columns":3,"align":"none","bounds":"flush","spacing":{"row":2,"column":24},"concat":[
{"width":232,"height":22,"data":{"values":[{"label":"B","x":0,"y":0.27}]},"mark":{"type":"text","align":"left","fontSize":23,"fontWeight":"bold","color":"black","dx":2},"encoding":{"text":{"field":"label"},"x":{"field":"x","type":"quantitative","scale":{"domain":[0,1]},"axis":null},"y":{"field":"y","type":"quantitative","scale":{"domain":[0,1]},"axis":null}}},
{"width":292,"height":22,"data":{"name":"none"},"mark":"rect"},{"width":32,"height":22,"data":{"name":"none"},"mark":"rect"},
{"width":232,"height":268,"data":{"name":"none"},"mark":"rect"},
{"width":292,"height":268,"view":{"stroke":"#555","strokeWidth":1.5},"title":{"text":"Multiple Linear Regression","anchor":"middle","fontSize":14,"offset":-4,"color":"#444"},
"layer":[
{"data":{"name":"arrows"},"mark":{"type":"rule","strokeWidth":1.6},"encoding":{"x":{"field":"x0","type":"quantitative","title":"Sweat preference","scale":{"domain":[-0.02,0.02],"nice":false},"axis":{"values":[-0.02,-0.01,0,0.01,0.02],"format":".2f","grid":true,"gridColor":"#f3f3f3","labelAngle":0,"labelAlign":"center","labelFontSize":13,"labelColor":"#444","titleFontSize":14,"titleColor":"#444","ticks":false,"labelPadding":5,"titlePadding":3}},"y":{"field":"y0","type":"quantitative","title":"Sebum preference","scale":{"domain":[0,0.035],"nice":false},"axis":{"values":[0,0.005,0.01,0.015,0.02,0.025,0.03,0.035],"tickCount":8,"format":".3f","labelOverlap":false,"labelBound":false,"grid":true,"gridColor":"#f3f3f3","labelFontSize":13,"labelColor":"#444","titleFontSize":14,"titleColor":"#444","ticks":false,"labelPadding":5,"titlePadding":6}},"x2":{"field":"sweat"},"y2":{"field":"sebum"},
"color":{"field":"series","type":"nominal","legend":null,"scale":{"domain":["AR0387 24 hr.","AR0387 48 hr.","fox2Δ 24 hr.","fox2Δ 48 hr.","cat2Δ 24 hr.","cat2Δ 48 hr.","icl1Δ 24 hr.","icl1Δ 48 hr."],"range":["#1f1fe0","#1f1fe0","#22e022","#22e022","#f5861f","#f5861f","#f018e0","#f018e0"]}},
"strokeDash":{"field":"series","type":"nominal","legend":null,"scale":{"domain":["AR0387 24 hr.","AR0387 48 hr.","fox2Δ 24 hr.","fox2Δ 48 hr.","cat2Δ 24 hr.","cat2Δ 48 hr.","icl1Δ 24 hr.","icl1Δ 48 hr."],"range":[[1,0],[6,3],[1,0],[6,3],[1,0],[6,3],[1,0],[6,3]]}}}},
{"data":{"name":"arrows"},"mark":{"type":"point","shape":"M -0.55 1 L 0 0 L 0.55 1","size":100,"filled":false,"strokeWidth":1.3},"encoding":{"x":{"field":"sweat","type":"quantitative","title":"Sweat preference"},"y":{"field":"sebum","type":"quantitative","title":"Sebum preference","axis":{"values":[0,0.005,0.01,0.015,0.02,0.025,0.03,0.035],"tickCount":8,"format":".3f","labelOverlap":false}},"color":{"field":"series","type":"nominal","legend":null},"angle":{"field":"series","type":"nominal","legend":null,"scale":{"domain":["AR0387 24 hr.","AR0387 48 hr.","fox2Δ 24 hr.","fox2Δ 48 hr.","cat2Δ 24 hr.","cat2Δ 48 hr.","icl1Δ 24 hr.","icl1Δ 48 hr."],"range":[340,349,327,301,321,332,321,323]}}}},
{"data":{"values":[{"zero":0}]},"mark":{"type":"rule","color":"black","strokeDash":[4,3],"strokeWidth":1.4},"encoding":{"x":{"field":"zero","type":"quantitative","title":"Sweat preference"}}},
{"data":{"values":[{"zero":0}]},"mark":{"type":"rule","color":"#222","strokeDash":[4,3],"strokeWidth":1.2},"encoding":{"y":{"field":"zero","type":"quantitative","title":"Sebum preference","axis":{"values":[0,0.005,0.01,0.015,0.02,0.025,0.03,0.035],"tickCount":8,"format":".3f","labelOverlap":false}}}}
]},
{"width":32,"height":163,"data":{"name":"swatches"},"mark":{"type":"rule","strokeWidth":2},"encoding":{"x":{"field":"from","type":"quantitative","axis":null,"scale":{"domain":[0,1]}},"x2":{"field":"to"},"y":{"field":"series","type":"nominal","title":null,"sort":null,"scale":{"type":"point","padding":0.23},"axis":{"orient":"right","ticks":false,"labelPadding":9,"labelFontSize":17,"labelColor":"#111","labelLimit":0,"labelOverlap":false}},"color":{"field":"series","type":"nominal","legend":null},"strokeDash":{"field":"series","type":"nominal","legend":null}}},
{"width":1,"height":46,"data":{"name":"none"},"mark":"rect"}
]},
{"columns":4,"align":"none","bounds":"flush","spacing":{"row":2,"column":4},"resolve":{"scale":{"fill":"independent","stroke":"independent"}},"concat":[
{"width":253,"height":65,"data":{"values":[{"label":"C","x":0,"y":0.69}]},"mark":{"type":"text","align":"left","fontSize":23,"fontWeight":"bold","color":"black","dx":2},"encoding":{"text":{"field":"label"},"x":{"field":"x","type":"quantitative","scale":{"domain":[0,1]},"axis":null},"y":{"field":"y","type":"quantitative","scale":{"domain":[0,1]},"axis":null}}},
{"width":103,"height":65,"data":{"name":"none"},"mark":"rect"},{"width":46,"height":65,"data":{"name":"none"},"mark":"rect"},{"width":252,"height":65,"data":{"name":"none"},"mark":"rect"},

{"width":253,"height":196,"data":{"name":"none"},"mark":"rect"},
{"width":103,"height":196,"data":{"name":"none"},"mark":"rect"},
{"width":46,"height":196,"data":{"name":"none"},"mark":"rect"},
{"width":252,"height":196,"title":{"text":"Strain preferences","anchor":"middle","dx":-80,"offset":27,"fontSize":16,"color":"#111"},
"layer":[
{"data":{"name":"boxes"},"mark":{"type":"rect","stroke":"black","strokeWidth":1.5},"encoding":{"x":{"field":"x0","type":"quantitative","title":"Intersection","scale":{"domain":[0.405,3.595],"nice":false,"zero":false},"axis":{"values":[],"domain":true,"domainColor":"#555","titleFontSize":5.5,"titlePadding":4,"ticks":false}},"x2":{"field":"x1"},"y":{"field":"y0","type":"quantitative","title":"Strain Count","scale":{"domain":[-0.2,4.2],"nice":false},"axis":{"values":[0,1,2,3,4],"format":"d","domain":true,"domainColor":"#555","labelFontSize":4.5,"labelPadding":2,"titleFontSize":5.7,"titlePadding":31}},"y2":{"field":"y1"},"fill":{"field":"strain","type":"nominal","legend":null,"scale":{"domain":["icl1Δ_48hr","icl1Δ_24hr","cat2Δ_24hr","fox2Δ_24hr","cat2Δ_48hr","AR0387_48hr","AR0387_24hr","fox2Δ_48hr"],"range":["white","#ff00ff","#ff8000","#00ff00","white","white","#0000f0","white"]}}}},
{"data":{"name":"hatch"},"mark":{"type":"rule","strokeWidth":1,"opacity":0.65},"encoding":{"x":{"field":"x0","type":"quantitative","title":"Intersection"},"x2":{"field":"x1"},"y":{"field":"y0","type":"quantitative","title":"Strain Count"},"y2":{"field":"y1"},"stroke":{"field":"strain","type":"nominal","legend":null,"scale":{"domain":["icl1Δ_48hr","cat2Δ_48hr","AR0387_48hr","fox2Δ_48hr"],"range":["#e040e0","#f09030","#3030c0","#40d040"]}}}},
{"data":{"name":"boxes"},"mark":{"type":"text","fontSize":8.7,"fontWeight":"bold"},"encoding":{"x":{"field":"xc","type":"quantitative","title":"Intersection"},"y":{"field":"ym","type":"quantitative","title":"Strain Count"},"text":{"field":"strain"},"color":{"condition":{"test":"datum.strain === 'AR0387_24hr'","value":"#e8e8ff"},"value":"#111"}}}
]},

{"width":1,"height":12,"data":{"name":"none"},"mark":"rect"},{"width":1,"height":12,"data":{"name":"none"},"mark":"rect"},{"width":1,"height":12,"data":{"name":"none"},"mark":"rect"},{"width":1,"height":12,"data":{"name":"none"},"mark":"rect"},

{"width":253,"height":95,"data":{"name":"none"},"mark":"rect"},
{"width":103,"height":95,
"layer":[
{"data":{"name":"stripes"},"mark":{"type":"rect","color":"#f1f1f1"},"encoding":{"y":{"field":"set","type":"nominal","axis":null,"scale":{"type":"band","domain":["No_Sweat","Low_Sebum","High_Sebum","Low_Sweat","No_Sebum","High_Sweat"],"paddingInner":0.45,"paddingOuter":0.225}}}},
{"data":{"name":"sizes"},"mark":{"type":"bar","color":"#595959"},"encoding":{"y":{"field":"set","type":"nominal","axis":null},"x":{"field":"size","type":"quantitative","title":"Set size","scale":{"domain":[5.25,0],"nice":false},"axis":{"values":[5,4,3,2,1,0],"format":"d","labelAngle":0,"labelAlign":"center","labelFontSize":6,"labelPadding":3,"ticks":false,"titleFontSize":7.5,"titlePadding":1,"titleX":54}}}}
]},
{"width":46,"height":95,"data":{"name":"none"},"mark":"rect"},
{"width":252,"height":95,
"layer":[
{"data":{"name":"stripes"},"mark":{"type":"rect","color":"#f1f1f1"},"encoding":{"y":{"field":"set","type":"nominal","title":null,"scale":{"type":"band","domain":["No_Sweat","Low_Sebum","High_Sebum","Low_Sweat","No_Sebum","High_Sweat"],"paddingInner":0.45,"paddingOuter":0.225},"axis":{"ticks":false,"labelFontSize":6,"labelPadding":3}}}},
{"data":{"name":"links"},"mark":{"type":"rule","strokeWidth":1.6},"encoding":{"x":{"field":"group","type":"quantitative","title":"group","scale":{"domain":[0.405,3.595],"nice":false,"zero":false},"axis":{"values":[],"ticks":false,"titleFontSize":7.5,"titlePadding":9}},"y":{"field":"from","type":"nominal","title":null},"y2":{"field":"to"},"stroke":{"field":"group","type":"nominal","legend":null,"scale":{"domain":[1,2,3],"range":["#444","#444","#999"]}}}},
{"data":{"name":"dots"},"mark":{"type":"circle","opacity":1},"encoding":{"x":{"field":"group","type":"quantitative","title":"group"},"y":{"field":"set","type":"nominal","title":null},"fill":{"field":"member","type":"nominal","legend":null,"scale":{"domain":["no","yes"],"range":["#dcdcdc","#000000"]}},"size":{"field":"member","type":"nominal","legend":null,"scale":{"domain":["no","yes"],"range":[20,28]}}}}
]}
]}
]}
